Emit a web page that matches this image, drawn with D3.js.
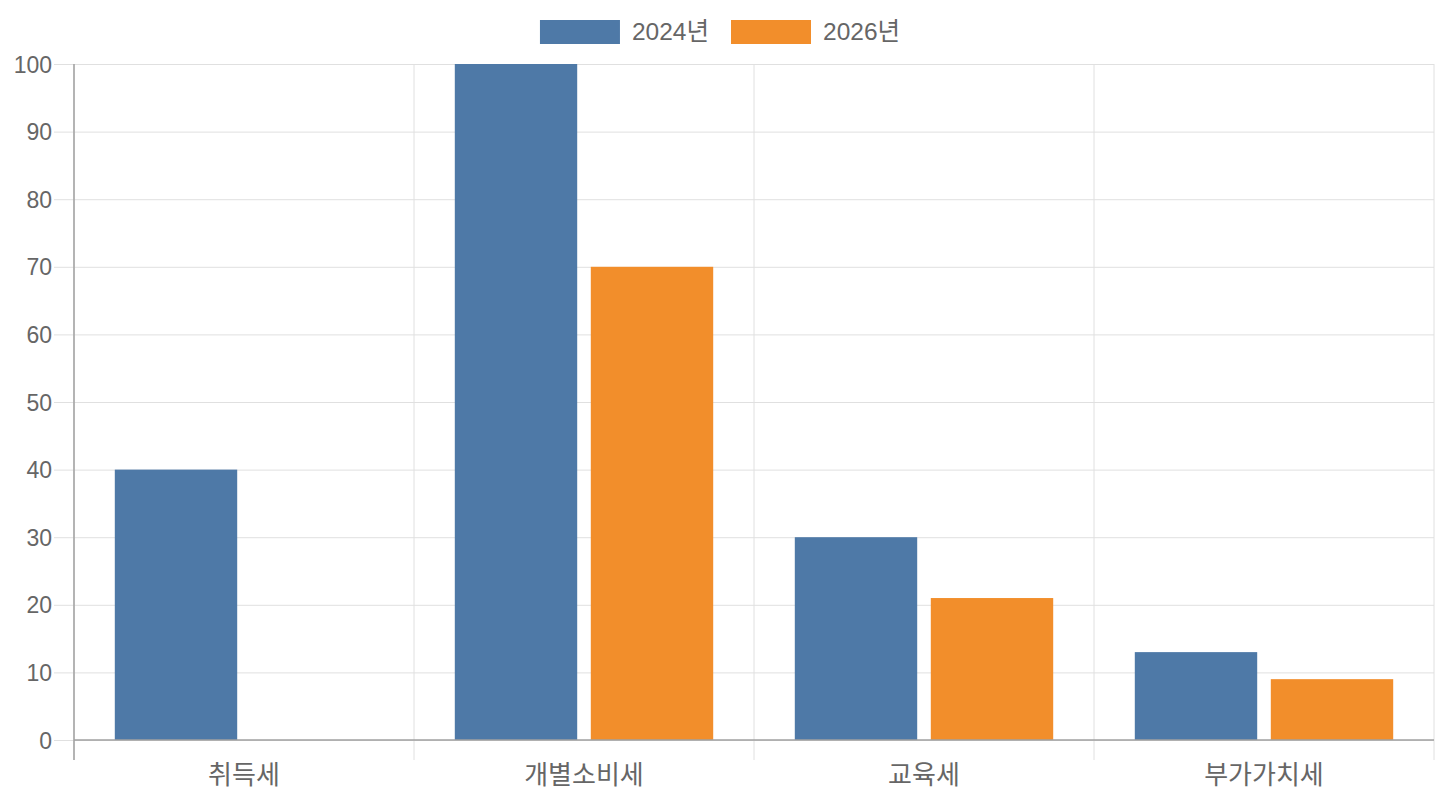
<!DOCTYPE html>
<meta charset="utf-8">
<style>
body { margin: 0; background: #fff; }
svg text { font-family: "Liberation Sans", Arial, "Noto Sans CJK KR", sans-serif; fill: #666; }
.grid line { stroke: #e0e0e0; }
.domain-line { stroke: #a0a0a0; stroke-width: 1.5; }
</style>
<svg></svg>
<script src="https://cdn.jsdelivr.net/npm/d3@7"></script>
<script>
// chart data
var categories = ["취득세", "개별소비세", "교육세", "부가가치세"];
var seriesNames = ["2024년", "2026년"];
var values2024 = [40, 100, 30, 13];
var values2026 = [0, 70, 21, 9];
var yTicks = [0, 10, 20, 30, 40, 50, 60, 70, 80, 90, 100];
var colors = ["#4e79a7", "#f28e2b"];

var W = 1440, H = 800,
    margin = {top: 64, right: 6, bottom: 60, left: 74},
    width = W - margin.left - margin.right,
    height = H - margin.top - margin.bottom;

var svg = d3.select("svg").attr("width", W).attr("height", H);

var x = d3.scaleBand().domain(categories).range([0, width]).padding(0);
// each category uses 80% of its band, split between the two series
var xs = d3.scaleBand().domain(seriesNames).range([0, x.bandwidth()]).paddingInner(0).paddingOuter(0.25);
var y = d3.scaleLinear().domain([0, 100]).range([height, 0]);

var g = svg.append("g").attr("transform", "translate(" + margin.left + "," + margin.top + ")");

// horizontal grid + y ticks
g.append("g")
    .attr("class", "axis axis--y")
    .call(d3.axisLeft(y).tickValues(yTicks).tickSize(20).tickPadding(2))
    .call(function(s) {
      s.select(".domain").remove();
      s.selectAll(".tick line").attr("stroke", "#e0e0e0");
      s.selectAll("text").style("font-size", "23px").attr("dy", "0.35em");
      s.selectAll(".tick").append("line").attr("x2", width).attr("stroke", "#e0e0e0");
    });

// vertical grid lines at category edges
var edges = categories.map(function(c) { return x(c); }).concat([width]);
g.append("g").attr("class", "grid")
  .selectAll("line").data(edges).enter().append("line")
    .attr("x1", function(d) { return d; })
    .attr("x2", function(d) { return d; })
    .attr("y1", 0).attr("y2", height + 20);

// x labels
g.append("g")
  .selectAll("text").data(categories).enter().append("text")
    .attr("x", function(d) { return x(d) + x.bandwidth() / 2; })
    .attr("y", height + 44)
    .attr("text-anchor", "middle")
    .style("font-size", "26px")
    .text(function(d) { return d; });

// bars
var series = [values2024, values2026];
series.forEach(function(vals, si) {
  var slot = xs.bandwidth();
  var bw = slot * 0.9;
  g.append("g").selectAll("rect").data(vals).enter().append("rect")
      .attr("x", function(d, i) { return x(categories[i]) + xs(seriesNames[si]) + (slot - bw) / 2; })
      .attr("y", function(d) { return y(d); })
      .attr("width", bw)
      .attr("height", function(d) { return height - y(d); })
      .attr("fill", colors[si]);
});

// axis lines
g.append("line").attr("class", "domain-line")
    .attr("x1", 0).attr("x2", 0).attr("y1", 0).attr("y2", height + 20);
g.append("line").attr("class", "domain-line")
    .attr("x1", 0).attr("x2", width).attr("y1", height).attr("y2", height);

// legend
var legend = svg.append("g");
var lx = 0;
seriesNames.forEach(function(name, i) {
  var item = legend.append("g").attr("transform", "translate(" + lx + ",0)");
  item.append("rect").attr("x", 0).attr("y", 20).attr("width", 80).attr("height", 24).attr("fill", colors[i]);
  var t = item.append("text").attr("x", 92).attr("y", 40).style("font-size", "24.5px").text(name);
  lx += 92 + t.node().getComputedTextLength() + 22;
});
lx -= 22;
legend.attr("transform", "translate(" + (W / 2 - lx / 2) + ",0)");
</script>
